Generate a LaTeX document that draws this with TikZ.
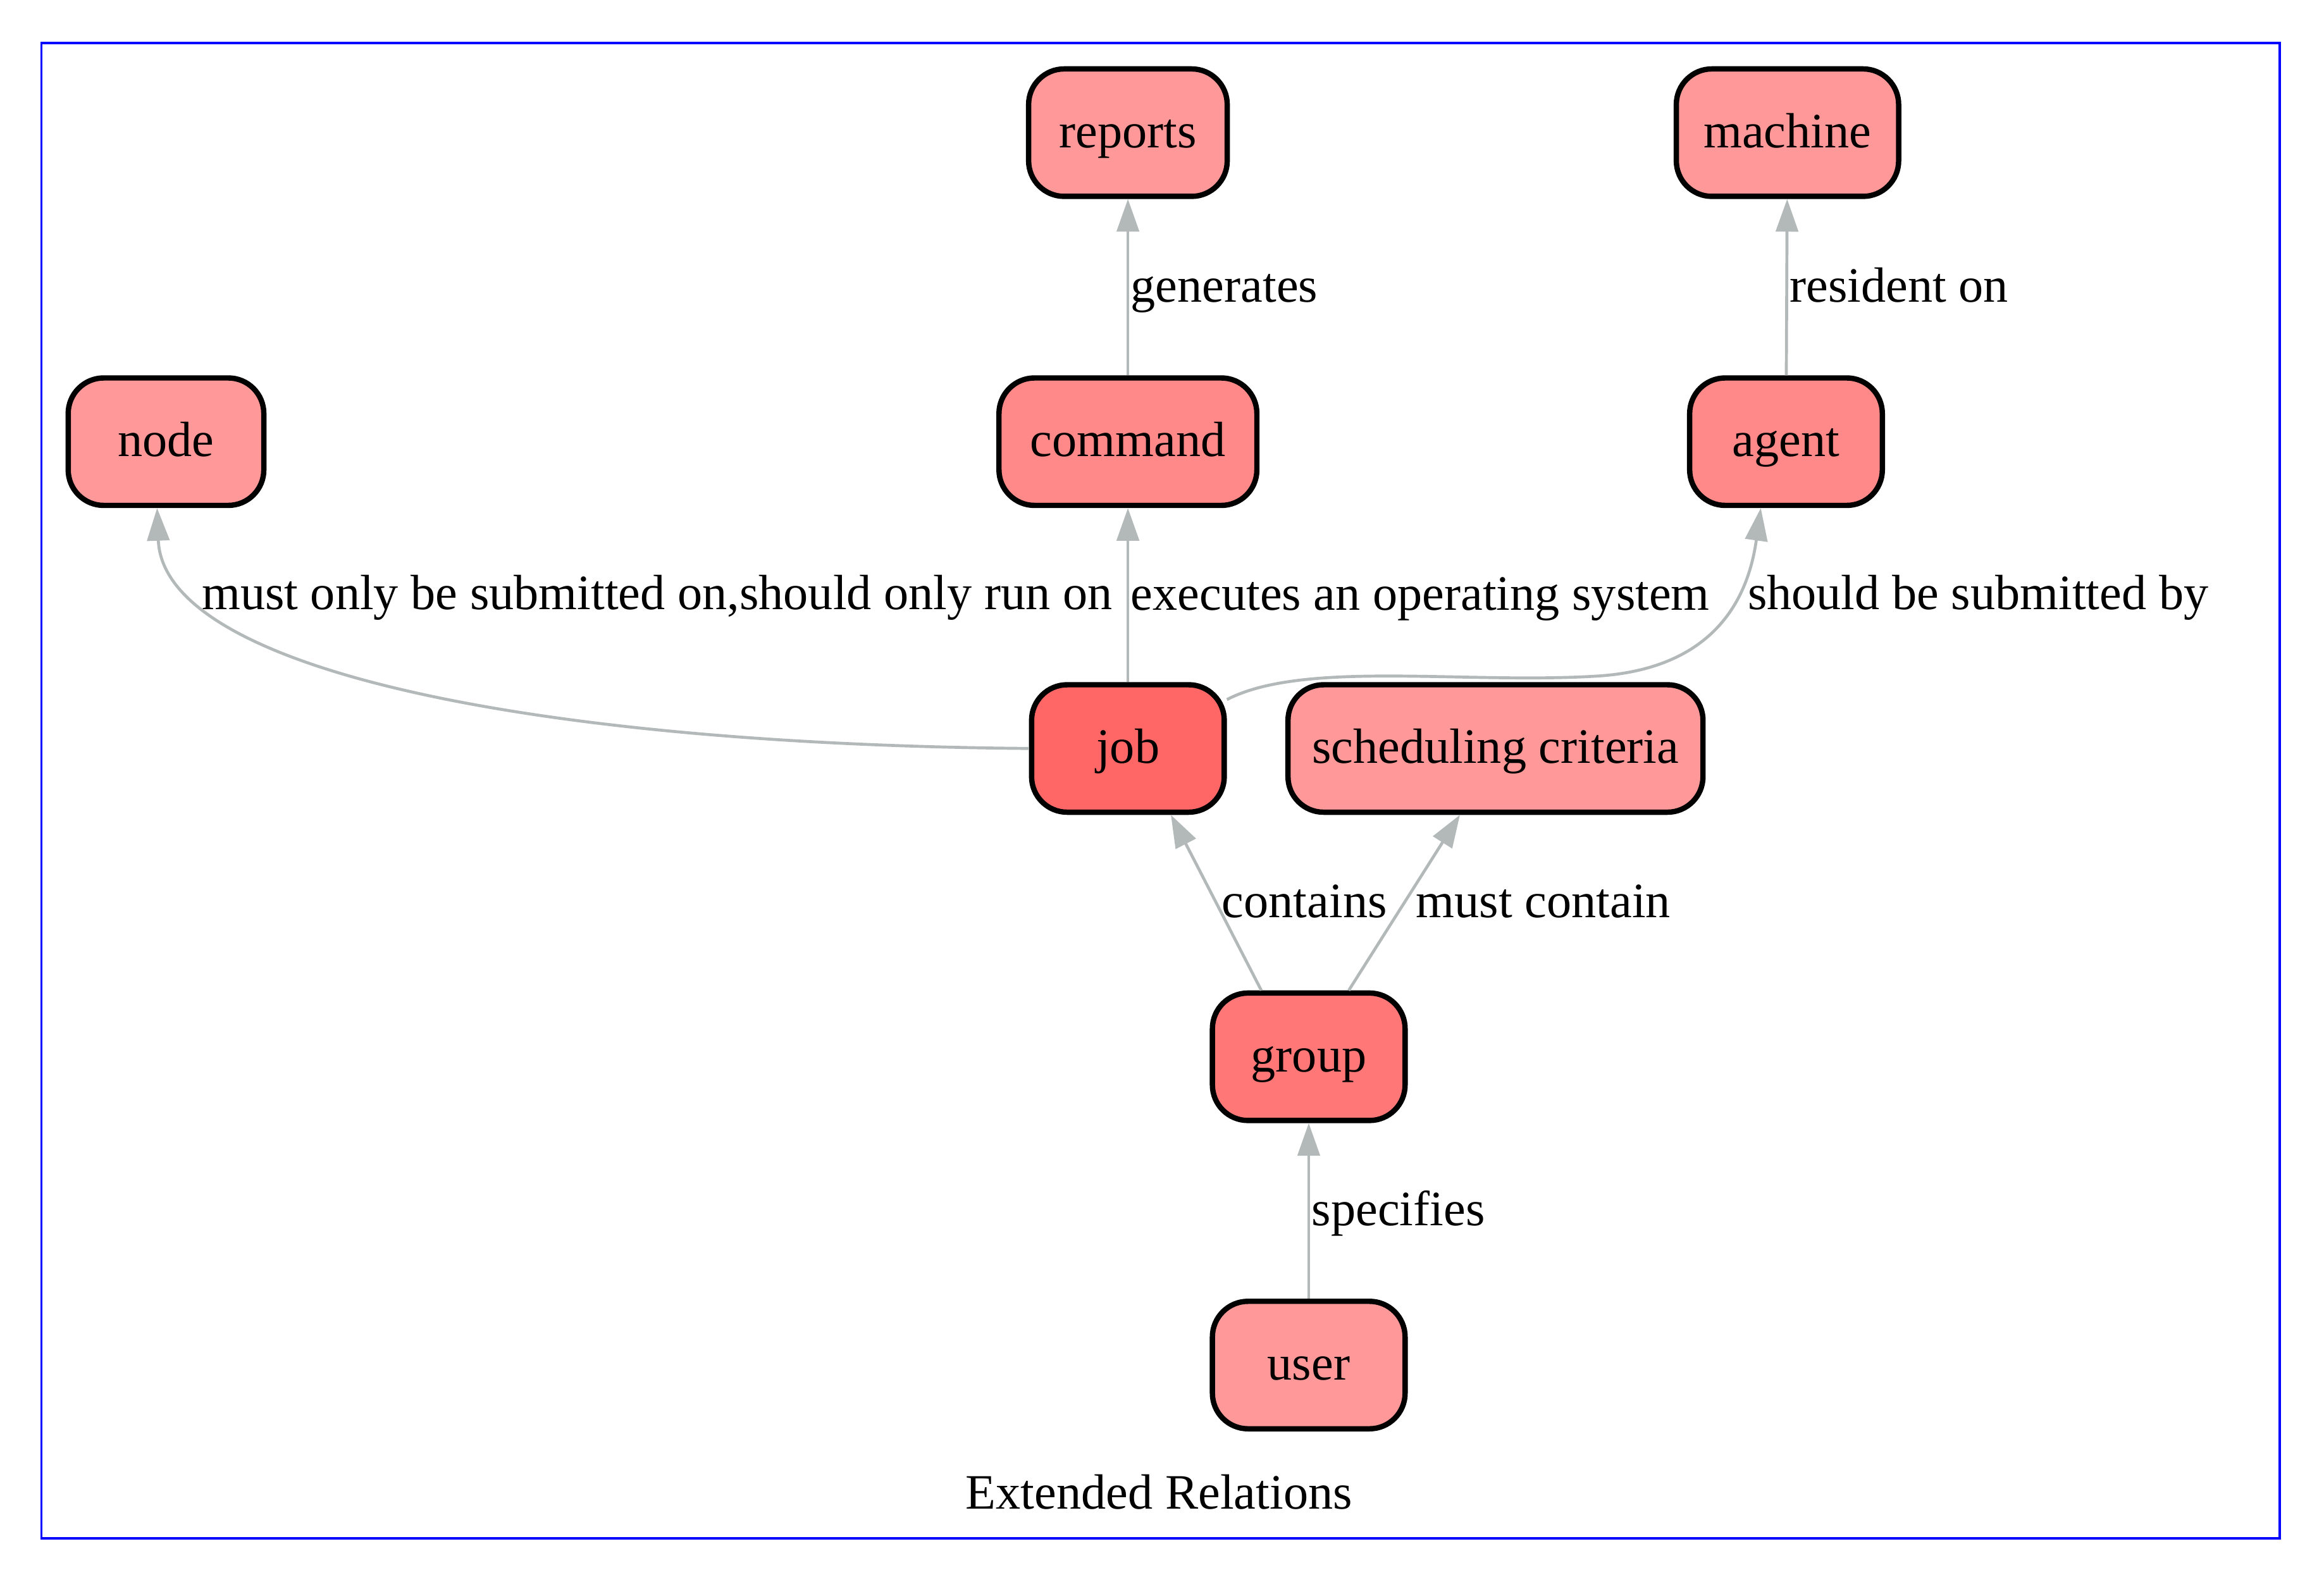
\documentclass[tikz,border=0pt]{standalone}
\usepackage{fontspec}
\setmainfont{Liberation Serif}
\usetikzlibrary{arrows.meta}
\definecolor{c1}{HTML}{FF6666}
\definecolor{c2}{HTML}{FF7777}
\definecolor{c3}{HTML}{FF8888}
\definecolor{c4}{HTML}{FF9999}
\definecolor{edgegray}{RGB}{179,185,185}
\begin{document}
\begin{tikzpicture}[x=1pt,y=-1pt,
  every node/.style={font=\fontsize{33.4}{40}\selectfont,text height=25pt,text depth=5pt},
  ent/.style={draw=black,line width=3.6pt,rounded corners=24pt,minimum height=86pt,minimum width=130pt,inner sep=0pt},
  rel/.style={draw=edgegray,line width=2pt,-{Triangle[length=22pt,width=15pt]}},
  lab/.style={anchor=west,inner sep=1pt}]
\useasboundingbox (0,0) rectangle (1568,1067);
\draw[blue,line width=1.5pt] (28,29) rectangle (1538,1038);
\node (title) at (782,1008) {Extended Relations};
\node[ent,fill=c4,minimum width=134pt] (reports) at (761,89.5) {reports};
\node[ent,fill=c4,minimum width=150pt] (machine) at (1206,89.5) {machine};
\node[ent,fill=c4,minimum width=132pt] (node) at (112,298) {node};
\node[ent,fill=c3,minimum width=174pt] (command) at (761,298) {command};
\node[ent,fill=c3] (agent) at (1205,298) {agent};
\node[ent,fill=c1] (job) at (761,505) {job};
\node[ent,fill=c4,minimum width=280pt] (sched) at (1009,505) {scheduling criteria};
\node[ent,fill=c2] (group) at (883,713) {group};
\node[ent,fill=c4] (user) at (883,921) {user};
\draw[rel] (command) -- node[lab] {generates} (reports);
\draw[rel] (agent) -- node[lab] {resident on} (machine);
\draw[rel] (job) -- node[lab] {executes an operating system} (command);
\draw[rel] (job.west) .. controls (350,502) and (110,450) .. ([xshift=-6pt]node.south);
\node[lab] (l1) at (135,401) {must only be submitted on,should only run on};
\draw[rel] ([yshift=33pt]job.east) .. controls (880,445) and (990,462) .. (1080,456) .. controls (1160,450) and (1180,400) .. ([xshift=-17pt]agent.south);
\node[lab] (l2) at (1178,401) {should be submitted by};
\draw[rel] ([xshift=-32pt]group.north) -- node[lab,xshift=2pt] {contains} ([xshift=29pt]job.south);
\draw[rel] ([xshift=27pt]group.north) -- node[lab,xshift=6pt] {must contain} ([xshift=-24pt]sched.south);
\draw[rel] (user) -- node[lab] {specifies} (group);
\end{tikzpicture}
\end{document}
